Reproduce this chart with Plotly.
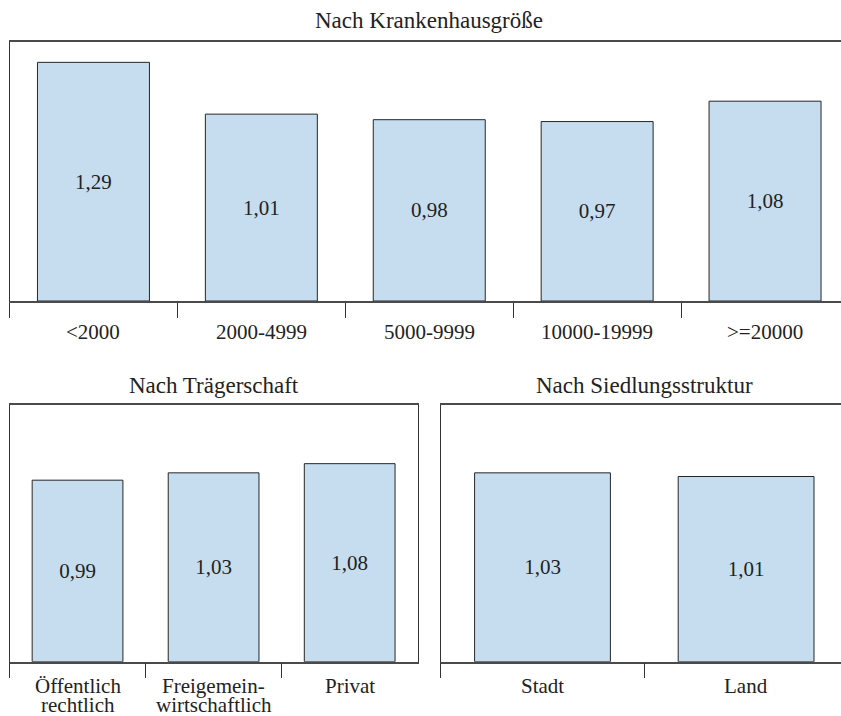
import plotly.graph_objects as go

# ---------------- data ----------------
groesse_title = "Nach Krankenhausgröße"
groesse_cats = ["<2000", "2000-4999", "5000-9999", "10000-19999", ">=20000"]
groesse_vals = [1.29, 1.01, 0.98, 0.97, 1.08]

traeger_title = "Nach Trägerschaft"
traeger_cats = ["Öffentlich rechtlich", "Freigemeinwirtschaftlich", "Privat"]
traeger_labels = [["Öffentlich", "rechtlich"], ["Freigemein-", "wirtschaftlich"], ["Privat"]]
traeger_vals = [0.99, 1.03, 1.08]

siedlung_title = "Nach Siedlungsstruktur"
siedlung_cats = ["Stadt", "Land"]
siedlung_vals = [1.03, 1.01]

# ---------------- layout helpers ----------------
W, H = 841, 716
FONT = "'Liberation Serif', 'DejaVu Serif', 'Times New Roman', serif"
FS = 21
FS_TITLE = 23
TXT = "#222222"
BAR_FILL = "#c6ddf0"
BAR_LINE = "#262626"


def fx(p):
    return p / W


def fy(p):
    return 1 - p / H


panels = [
    # axis suffix, cats, labels, vals, title, left px, right px, top px, bottom px, category width px,
    # right border, title y px, label y px
    ("", groesse_cats, [[c] for c in groesse_cats], groesse_vals, groesse_title, 9.5, 841, 42, 301, 167.9, False, 20.5, 331.5),
    ("2", traeger_cats, traeger_labels, traeger_vals, traeger_title, 9.5, 417.7, 405, 661.7, 136.07, True, 385, 686),
    ("3", siedlung_cats, [[c] for c in siedlung_cats], siedlung_vals, siedlung_title, 440.7, 841, 405, 661.7, 203.6, False, 385, 686),
]

fig = go.Figure()
annotations = []
layout_axes = {}

for (suf, cats, labels, vals, title, x0, x1, top, bottom, cw, right_border, title_y, label_y) in panels:
    xa = "x" + suf
    ya = "y" + suf
    fig.add_trace(go.Bar(
        x=cats, y=vals, xaxis=xa, yaxis=ya, width=0.667,
        marker=dict(color=BAR_FILL, line=dict(color=BAR_LINE, width=1)),
        texttemplate="%{y:.2f}", textposition="inside", insidetextanchor="middle",
        textfont=dict(family=FONT, size=FS, color=TXT),
        showlegend=False, hoverinfo="skip",
    ))
    layout_axes["xaxis" + suf] = dict(
        type="category", domain=[fx(x0), fx(x1)], anchor=ya,
        range=[-0.5, -0.5 + (x1 - x0) / cw],
        showline=True, linecolor="#4a4a4a", linewidth=1.5, mirror=True,
        ticks="outside", tickson="boundaries", ticklen=15, tickwidth=1, tickcolor="#333333",
        showticklabels=False, showgrid=False, zeroline=False, fixedrange=True,
    )
    layout_axes["yaxis" + suf] = dict(
        domain=[fy(bottom), fy(top)], anchor=xa, range=[0, 1.4],
        showline=True, linecolor="#333333", linewidth=1, mirror=right_border,
        ticks="", showticklabels=False, showgrid=False, zeroline=False, fixedrange=True,
    )
    # panel title
    annotations.append(dict(
        text=title, xref="paper", yref="paper",
        x=fx((x0 + x0 + len(cats) * cw) / 2), y=fy(title_y),
        xanchor="center", yanchor="middle", showarrow=False,
        font=dict(family=FONT, size=FS_TITLE, color=TXT),
    ))
    # category labels
    for cat, lines in zip(cats, labels):
        for i, line in enumerate(lines):
            annotations.append(dict(
                text=line.replace("<", "&lt;"), xref=xa, yref="paper",
                x=cat, y=fy(label_y + i * 19),
                xanchor="center", yanchor="middle", showarrow=False,
                font=dict(family=FONT, size=FS, color=TXT),
            ))

fig.update_layout(
    width=W, height=H, margin=dict(l=0, r=0, t=0, b=0),
    paper_bgcolor="white", plot_bgcolor="white",
    separators=",.", bargap=0.333,
    font=dict(family=FONT, size=FS, color=TXT),
    annotations=annotations,
    **layout_axes,
)

fig.write_html(
    "out.html",
    config={"displayModeBar": False},
    post_script="document.body.style.margin='0px';document.body.style.overflow='hidden';",
)
